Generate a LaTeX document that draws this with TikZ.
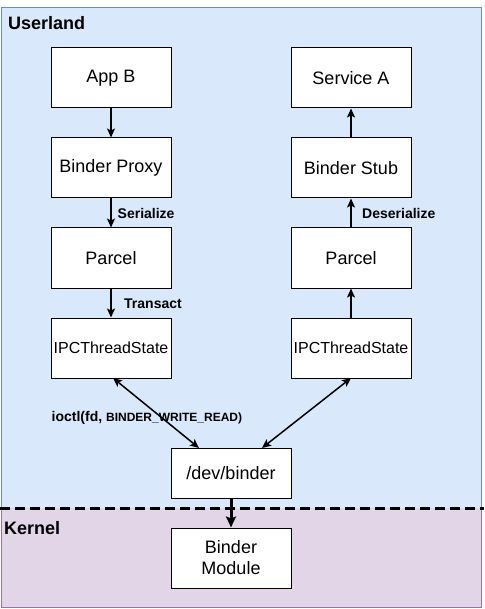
\documentclass[tikz,border=0pt]{standalone}
\usepackage{fontspec}
\setmainfont{Liberation Sans}
\usetikzlibrary{arrows.meta}
\definecolor{ufill}{HTML}{DAE8FC}
\definecolor{ustroke}{HTML}{6C8EBF}
\definecolor{kfill}{HTML}{E1D5E7}
\definecolor{kstroke}{HTML}{9673A6}
\tikzset{
  box/.style={draw=black, line width=1pt, fill=white, minimum width=120pt, minimum height=60pt, inner sep=0pt, align=center, font=\fontsize{18}{21}\selectfont},
  conn/.style={line width=1.5pt, -{Stealth[length=9pt,width=8pt,inset=2pt]}},
  biconn/.style={line width=1.5pt, {Stealth[length=9pt,width=8pt,inset=2pt]}-{Stealth[length=9pt,width=8pt,inset=2pt]}},
  lbl/.style={font=\bfseries\fontsize{14}{16}\selectfont, anchor=west, inner sep=0pt},
  region/.style={font=\bfseries\fontsize{18}{21}\selectfont, anchor=west, inner sep=0pt}
}
\begin{document}
\begin{tikzpicture}[x=1pt,y=-1pt]
\useasboundingbox (0,0) rectangle (484,609);
\fill[ufill] (1.5,8) rectangle (481.5,508);
\draw[ustroke, line width=1pt] (1.5,508) -- (1.5,8) -- (481.5,8) -- (481.5,508);
\fill[kfill] (1.5,508) rectangle (481.5,607.5);
\draw[kstroke, line width=1pt] (1.5,508) -- (1.5,607.5) -- (481.5,607.5) -- (481.5,508);
\coordinate (dl) at (0,508);
\coordinate (dr) at (484,508);
\draw[line width=3pt, dash pattern=on 10pt off 5pt] (dl) -- (dr);
\node[region] (userland) at (8,23) {Userland};
\node[region] (kernel) at (4,528) {Kernel};
% left column
\node[box] (appb) at (111,78) {App B};
\node[box] (proxy) at (111,168) {Binder Proxy};
\node[box] (parcelL) at (111,258) {Parcel};
\node[box, font=\fontsize{16}{19}\selectfont] (ipcL) at (111,348) {IPCThreadState};
% right column
\node[box] (servA) at (351,78) {Service A};
\node[box] (stub) at (351,168) {Binder Stub};
\node[box] (parcelR) at (351,258) {Parcel};
\node[box, font=\fontsize{16}{19}\selectfont] (ipcR) at (351,348) {IPCThreadState};
% center
\node[box, minimum height=50pt] (dev) at (231,473) {/dev/binder};
\node[box] (module) at (231,558) {Binder\\Module};
% arrows
\draw[conn] (appb) -- (proxy);
\draw[conn] (proxy) -- (parcelL);
\draw[conn] (parcelL) -- (ipcL);
\draw[conn] (ipcR) -- (parcelR);
\draw[conn] (parcelR) -- (stub);
\draw[conn] (stub) -- (servA);
\draw[biconn] (113,378) -- (199,448);
\draw[biconn] (351,378) -- (262,448);
\draw[line width=3pt, -{Stealth[length=11pt,width=10pt,inset=2pt]}] (dev) -- (module);
% labels
\node[lbl] (ser) at (117.5,213) {Serialize};
\node[lbl] (tra) at (124,304) {Transact};
\node[lbl] (deser) at (362,213) {Deserialize};
\node[lbl] (ioctl) at (51.5,418) {ioctl(fd, {\fontsize{12}{14}\selectfont BINDER\_WRITE\_READ)}};
\end{tikzpicture}
\end{document}
